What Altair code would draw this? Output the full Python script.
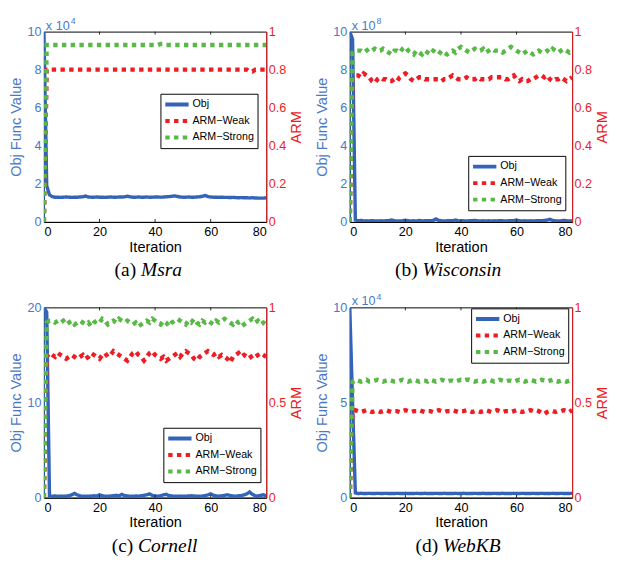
import altair as alt
import pandas as pd

iterations = list(range(81))
series_names = ["Obj", "ARM−Weak", "ARM−Strong"]
x_ticks = [0, 20, 40, 60, 80]
inner_ticks = [20, 40, 60]

# (a) Msra  -- objective in units of 10^4
msra_obj = [10.0, 1.90, 1.42, 1.33, 1.30, 1.30, 1.29, 1.30, 1.31, 1.30,
            1.29, 1.30, 1.30, 1.31, 1.32, 1.36, 1.31, 1.30, 1.30, 1.31,
            1.30, 1.30, 1.29, 1.30, 1.31, 1.30, 1.30, 1.31, 1.31, 1.32,
            1.35, 1.32, 1.30, 1.30, 1.31, 1.30, 1.30, 1.31, 1.30, 1.30,
            1.31, 1.31, 1.30, 1.31, 1.32, 1.33, 1.35, 1.37, 1.34, 1.31,
            1.30, 1.30, 1.31, 1.30, 1.30, 1.31, 1.32, 1.35, 1.39, 1.33,
            1.31, 1.30, 1.30, 1.29, 1.30, 1.29, 1.29, 1.28, 1.29, 1.28,
            1.27, 1.28, 1.27, 1.27, 1.26, 1.27, 1.26, 1.25, 1.25, 1.25, 1.27]
msra_weak = [0.0, 0.80, 0.80, 0.80, 0.80, 0.80, 0.80, 0.80, 0.80, 0.80,
             0.80, 0.80, 0.80, 0.80, 0.80, 0.80, 0.80, 0.80, 0.80, 0.80,
             0.80, 0.80, 0.80, 0.80, 0.80, 0.80, 0.80, 0.80, 0.80, 0.80,
             0.80, 0.80, 0.80, 0.80, 0.80, 0.80, 0.80, 0.80, 0.80, 0.80,
             0.80, 0.80, 0.80, 0.80, 0.80, 0.80, 0.80, 0.80, 0.80, 0.80,
             0.80, 0.80, 0.80, 0.80, 0.80, 0.80, 0.80, 0.80, 0.80, 0.80,
             0.80, 0.80, 0.80, 0.80, 0.80, 0.80, 0.80, 0.80, 0.80, 0.80,
             0.80, 0.80, 0.80, 0.80, 0.79, 0.79, 0.80, 0.80, 0.80, 0.80, 0.80]
msra_strong = [0.0, 0.93, 0.93, 0.93, 0.93, 0.93, 0.93, 0.93, 0.93, 0.93,
               0.93, 0.93, 0.93, 0.93, 0.93, 0.93, 0.93, 0.93, 0.93, 0.93,
               0.93, 0.93, 0.93, 0.93, 0.93, 0.93, 0.93, 0.93, 0.93, 0.93,
               0.93, 0.93, 0.93, 0.93, 0.93, 0.93, 0.93, 0.93, 0.93, 0.93,
               0.93, 0.93, 0.935, 0.935, 0.93, 0.93, 0.93, 0.93, 0.93, 0.93,
               0.93, 0.93, 0.93, 0.93, 0.93, 0.93, 0.93, 0.93, 0.93, 0.93,
               0.93, 0.93, 0.93, 0.93, 0.93, 0.93, 0.93, 0.93, 0.93, 0.93,
               0.93, 0.93, 0.93, 0.93, 0.93, 0.93, 0.93, 0.93, 0.93, 0.93, 0.93]

# (b) Wisconsin -- objective in units of 10^8
wis_obj = [10.0, 9.6, 0.10, 0.06, 0.08, 0.05, 0.06, 0.05, 0.07, 0.05,
           0.05, 0.06, 0.05, 0.06, 0.07, 0.10, 0.06, 0.05, 0.05, 0.06,
           0.09, 0.06, 0.05, 0.06, 0.05, 0.08, 0.05, 0.06, 0.07, 0.06,
           0.08, 0.16, 0.08, 0.06, 0.05, 0.06, 0.07, 0.06, 0.10, 0.06,
           0.05, 0.06, 0.05, 0.06, 0.07, 0.08, 0.06, 0.05, 0.06, 0.05,
           0.06, 0.05, 0.06, 0.05, 0.07, 0.06, 0.05, 0.06, 0.07, 0.06,
           0.10, 0.06, 0.05, 0.06, 0.05, 0.06, 0.05, 0.06, 0.07, 0.06,
           0.08, 0.10, 0.14, 0.08, 0.06, 0.05, 0.06, 0.08, 0.06, 0.05, 0.06]
wis_weak = [0.0, 0.75, 0.77, 0.77, 0.76, 0.78, 0.77, 0.76, 0.74, 0.73,
            0.75, 0.76, 0.75, 0.75, 0.74, 0.74, 0.75, 0.74, 0.76, 0.77,
            0.78, 0.77, 0.75, 0.74, 0.75, 0.76, 0.76, 0.75, 0.75, 0.75,
            0.75, 0.75, 0.75, 0.74, 0.75, 0.75, 0.76, 0.77, 0.76, 0.75,
            0.75, 0.75, 0.76, 0.75, 0.75, 0.75, 0.76, 0.75, 0.75, 0.75,
            0.75, 0.76, 0.76, 0.76, 0.76, 0.76, 0.75, 0.75, 0.76, 0.77,
            0.75, 0.74, 0.75, 0.74, 0.74, 0.75, 0.75, 0.76, 0.77, 0.77,
            0.76, 0.77, 0.75, 0.74, 0.75, 0.75, 0.76, 0.75, 0.74, 0.75, 0.76]
wis_strong = [0.0, 0.89, 0.90, 0.90, 0.90, 0.89, 0.90, 0.91, 0.90, 0.91,
              0.90, 0.90, 0.91, 0.90, 0.89, 0.88, 0.90, 0.90, 0.89, 0.91,
              0.92, 0.90, 0.89, 0.88, 0.90, 0.89, 0.88, 0.90, 0.89, 0.88,
              0.90, 0.89, 0.88, 0.90, 0.89, 0.88, 0.89, 0.90, 0.89, 0.91,
              0.92, 0.91, 0.90, 0.89, 0.90, 0.91, 0.90, 0.90, 0.91, 0.89,
              0.90, 0.91, 0.90, 0.90, 0.90, 0.89, 0.90, 0.91, 0.92, 0.91,
              0.90, 0.89, 0.88, 0.89, 0.90, 0.89, 0.88, 0.89, 0.90, 0.89,
              0.89, 0.90, 0.89, 0.91, 0.90, 0.89, 0.90, 0.91, 0.90, 0.89, 0.90]

# (c) Cornell -- objective raw
cor_obj = [20.0, 19.5, 0.20, 0.15, 0.18, 0.15, 0.16, 0.15, 0.17, 0.20,
           0.30, 0.45, 0.30, 0.18, 0.15, 0.16, 0.15, 0.17, 0.20, 0.18,
           0.30, 0.20, 0.16, 0.15, 0.18, 0.20, 0.25, 0.20, 0.35, 0.22,
           0.18, 0.16, 0.15, 0.18, 0.16, 0.20, 0.25, 0.30, 0.40, 0.25,
           0.18, 0.16, 0.20, 0.30, 0.35, 0.22, 0.18, 0.16, 0.15, 0.17,
           0.16, 0.15, 0.18, 0.20, 0.18, 0.16, 0.15, 0.18, 0.22, 0.30,
           0.40, 0.25, 0.18, 0.16, 0.20, 0.25, 0.30, 0.22, 0.18, 0.16,
           0.20, 0.22, 0.30, 0.40, 0.60, 0.35, 0.20, 0.18, 0.25, 0.30, 0.20]
cor_weak = [0.0, 0.74, 0.76, 0.75, 0.74, 0.76, 0.75, 0.74, 0.73, 0.74,
            0.75, 0.74, 0.73, 0.74, 0.75, 0.73, 0.74, 0.76, 0.75, 0.74,
            0.73, 0.75, 0.76, 0.74, 0.75, 0.77, 0.76, 0.75, 0.74, 0.73,
            0.72, 0.74, 0.76, 0.77, 0.75, 0.74, 0.72, 0.74, 0.76, 0.77,
            0.75, 0.74, 0.73, 0.74, 0.72, 0.73, 0.74, 0.75, 0.76, 0.74,
            0.76, 0.77, 0.76, 0.75, 0.73, 0.72, 0.74, 0.75, 0.76, 0.77,
            0.76, 0.75, 0.76, 0.74, 0.75, 0.74, 0.73, 0.71, 0.74, 0.75,
            0.76, 0.74, 0.75, 0.74, 0.75, 0.73, 0.74, 0.75, 0.76, 0.75, 0.74]
cor_strong = [0.0, 0.92, 0.93, 0.93, 0.92, 0.93, 0.92, 0.93, 0.91, 0.92,
              0.93, 0.91, 0.92, 0.93, 0.92, 0.91, 0.92, 0.90, 0.92, 0.93,
              0.92, 0.94, 0.93, 0.91, 0.92, 0.93, 0.92, 0.94, 0.93, 0.92,
              0.93, 0.92, 0.91, 0.92, 0.90, 0.91, 0.92, 0.93, 0.92, 0.94,
              0.93, 0.92, 0.91, 0.93, 0.92, 0.90, 0.92, 0.93, 0.94, 0.93,
              0.92, 0.91, 0.93, 0.92, 0.94, 0.92, 0.91, 0.93, 0.92, 0.93,
              0.92, 0.91, 0.93, 0.92, 0.93, 0.94, 0.93, 0.92, 0.91, 0.93,
              0.92, 0.93, 0.91, 0.92, 0.93, 0.94, 0.92, 0.93, 0.91, 0.92, 0.91]

# (d) WebKB -- objective in units of 10^4
web_obj = [10.0, 5.0, 0.25, 0.22, 0.23, 0.22, 0.22, 0.23, 0.22, 0.22,
           0.23, 0.22, 0.22, 0.23, 0.22, 0.22, 0.22, 0.23, 0.22, 0.22,
           0.23, 0.22, 0.22, 0.22, 0.23, 0.22, 0.22, 0.23, 0.22, 0.22,
           0.22, 0.23, 0.22, 0.22, 0.23, 0.22, 0.22, 0.22, 0.23, 0.22,
           0.22, 0.23, 0.22, 0.22, 0.22, 0.23, 0.22, 0.22, 0.23, 0.22,
           0.22, 0.22, 0.23, 0.22, 0.22, 0.23, 0.22, 0.22, 0.22, 0.23,
           0.22, 0.22, 0.23, 0.22, 0.22, 0.22, 0.23, 0.22, 0.22, 0.23,
           0.22, 0.22, 0.22, 0.23, 0.22, 0.22, 0.23, 0.22, 0.22, 0.22, 0.23]
web_weak = [0.0, 0.45, 0.46, 0.455, 0.45, 0.455, 0.46, 0.455, 0.45, 0.455,
            0.455, 0.45, 0.455, 0.46, 0.455, 0.45, 0.455, 0.455, 0.45, 0.455,
            0.46, 0.455, 0.45, 0.455, 0.455, 0.46, 0.455, 0.45, 0.455, 0.455,
            0.45, 0.455, 0.46, 0.455, 0.45, 0.455, 0.455, 0.46, 0.455, 0.45,
            0.455, 0.455, 0.46, 0.455, 0.45, 0.455, 0.455, 0.45, 0.455, 0.46,
            0.455, 0.45, 0.455, 0.46, 0.455, 0.45, 0.455, 0.455, 0.45, 0.455,
            0.46, 0.455, 0.45, 0.455, 0.455, 0.46, 0.455, 0.46, 0.455, 0.445,
            0.44, 0.45, 0.455, 0.455, 0.45, 0.455, 0.455, 0.46, 0.455, 0.45, 0.46]
web_strong = [0.0, 0.61, 0.62, 0.615, 0.61, 0.615, 0.62, 0.61, 0.61, 0.615,
              0.62, 0.615, 0.61, 0.615, 0.62, 0.615, 0.61, 0.61, 0.615, 0.62,
              0.615, 0.61, 0.615, 0.62, 0.615, 0.61, 0.615, 0.615, 0.61, 0.62,
              0.615, 0.61, 0.615, 0.62, 0.615, 0.61, 0.615, 0.615, 0.61, 0.615,
              0.62, 0.615, 0.62, 0.62, 0.615, 0.61, 0.615, 0.615, 0.61, 0.615,
              0.62, 0.615, 0.61, 0.615, 0.62, 0.615, 0.61, 0.615, 0.615, 0.61,
              0.615, 0.62, 0.615, 0.61, 0.615, 0.62, 0.615, 0.61, 0.615, 0.62,
              0.615, 0.61, 0.615, 0.62, 0.615, 0.61, 0.615, 0.615, 0.61, 0.615, 0.62]

BLUE = "#3364b8"
BLUE_TXT = "#4a78c6"
RED = "#ee1c25"
GREEN = "#58b947"
W, H = 229, 196
CAP_Y = 252


def panel(obj, weak, strong, obj_max, obj_ticks, arm_ticks, exp, legend_xy,
          letter, name, cap_x):
    df_obj = pd.DataFrame({"it": iterations, "v": obj, "series": "Obj"})
    df_arm = pd.DataFrame({
        "it": iterations + iterations,
        "v": weak + strong,
        "series": [series_names[1]] * len(weak) + [series_names[2]] * len(strong),
    })
    leg = alt.Legend(orient="none", legendX=legend_xy[0], legendY=legend_xy[1])
    color = alt.Color("series:N", title=None, legend=leg,
                      scale=alt.Scale(domain=series_names, range=[BLUE, RED, GREEN]))
    dash = alt.StrokeDash("series:N", title=None, legend=leg,
                          scale=alt.Scale(domain=series_names,
                                          range=[[1, 0], [4.5, 4.5], [4.5, 4.5]]))
    xscale = alt.Scale(domain=[0, 80], nice=False)
    xaxis = alt.Axis(values=x_ticks, title="Iteration")
    x = alt.X("it:Q", scale=xscale, axis=xaxis)
    obj_line = alt.Chart(df_obj).mark_line(strokeWidth=3.5, clip=True).encode(
        x=x,
        y=alt.Y("v:Q", scale=alt.Scale(domain=[0, obj_max], nice=False),
                axis=alt.Axis(orient="left", values=obj_ticks, title="Obj Func Value",
                              labelColor=BLUE_TXT, titleColor=BLUE_TXT, domainColor=BLUE,
                              titlePadding=4)),
        color=color, strokeDash=dash,
    )
    arm_line = alt.Chart(df_arm).mark_line(strokeWidth=4.5, clip=True).encode(
        x=x,
        y=alt.Y("v:Q", scale=alt.Scale(domain=[0, 1], nice=False),
                axis=alt.Axis(orient="right", values=arm_ticks, title="ARM", format="~g",
                              labelColor=RED, titleColor=RED, domainColor=RED,
                              titleAngle=270, titleBaseline="top", titlePadding=3,
                              labelPadding=2)),
        color=color, strokeDash=dash, order=alt.Order("series:N", sort="ascending"),
    )
    tick_df = pd.DataFrame({"t": inner_ticks})
    tx = alt.X("t:Q", scale=xscale, axis=xaxis)
    ticks_bottom = alt.Chart(tick_df).mark_rule(color="#222222", strokeWidth=1).encode(
        x=tx, y=alt.value(H), y2=alt.value(H - 3))
    ticks_top = alt.Chart(tick_df).mark_rule(color="#222222", strokeWidth=1).encode(
        x=tx, y=alt.value(0), y2=alt.value(3))
    layers = [obj_line, arm_line, ticks_bottom, ticks_top]
    if exp:
        t1 = alt.Chart(pd.DataFrame({"t": ["x 10"]})).mark_text(
            align="left", baseline="alphabetic", fontSize=13, color=BLUE_TXT
        ).encode(text="t:N", x=alt.value(2), y=alt.value(-2))
        t2 = alt.Chart(pd.DataFrame({"t": [exp]})).mark_text(
            align="left", baseline="alphabetic", fontSize=9, color=BLUE_TXT
        ).encode(text="t:N", x=alt.value(27.5), y=alt.value(-8))
        layers += [t1, t2]
    c1 = alt.Chart(pd.DataFrame({"t": [letter]})).mark_text(
        align="right", baseline="alphabetic", fontSize=20, font="Liberation Serif", color="black"
    ).encode(text="t:N", x=alt.value(cap_x), y=alt.value(CAP_Y))
    c2 = alt.Chart(pd.DataFrame({"t": [name]})).mark_text(
        align="left", baseline="alphabetic", fontSize=20, font="Liberation Serif",
        fontStyle="italic", color="black"
    ).encode(text="t:N", x=alt.value(cap_x + 5), y=alt.value(CAP_Y))
    layers += [c1, c2]
    return alt.layer(*layers).resolve_scale(y="independent").properties(width=W, height=H)


pa = panel(msra_obj, msra_weak, msra_strong, 10, [0, 2, 4, 6, 8, 10],
           [0, 0.2, 0.4, 0.6, 0.8, 1], "4", (120, 64), "(a)", "Msra", 95)
pb = panel(wis_obj, wis_weak, wis_strong, 10, [0, 2, 4, 6, 8, 10],
           [0, 0.2, 0.4, 0.6, 0.8, 1], "8", (122, 128), "(b)", "Wisconsin", 70)
pc = panel(cor_obj, cor_weak, cor_strong, 20, [0, 10, 20],
           [0, 0.5, 1], None, (123, 124), "(c)", "Cornell", 92)
pd_ = panel(web_obj, web_weak, web_strong, 10, [0, 5, 10],
            [0, 0.5, 1], "4", (125, 1), "(d)", "WebKB", 91)

chart = alt.concat(pa, pb, pc, pd_, columns=2, spacing={"row": 11, "column": 10}).resolve_scale(
    color="independent", strokeDash="independent"
).resolve_legend(
    color="independent", strokeDash="independent"
).configure(
    font="Liberation Sans", padding={"left": 0, "top": 0, "right": 0, "bottom": 0}
).configure_view(
    stroke="black", strokeWidth=1
).configure_axis(
    grid=False, ticks=False, labelFontSize=13, titleFontSize=15, titleFontWeight="normal",
    labelColor="black", titleColor="black", domainColor="black", labelPadding=3,
    labelFont="Liberation Sans", titleFont="Liberation Sans"
).configure_axisX(
    labelPadding=4, titlePadding=1
).configure_legend(
    strokeColor="black", fillColor="white", padding=3, labelFontSize=11,
    labelColor="black", symbolType="M-1,0H3", symbolSize=144, symbolStrokeWidth=4,
    rowPadding=1, labelOffset=14, cornerRadius=0, labelFont="Liberation Sans"
)

chart.save("out.html", embed_options={"renderer": "svg", "actions": False})
